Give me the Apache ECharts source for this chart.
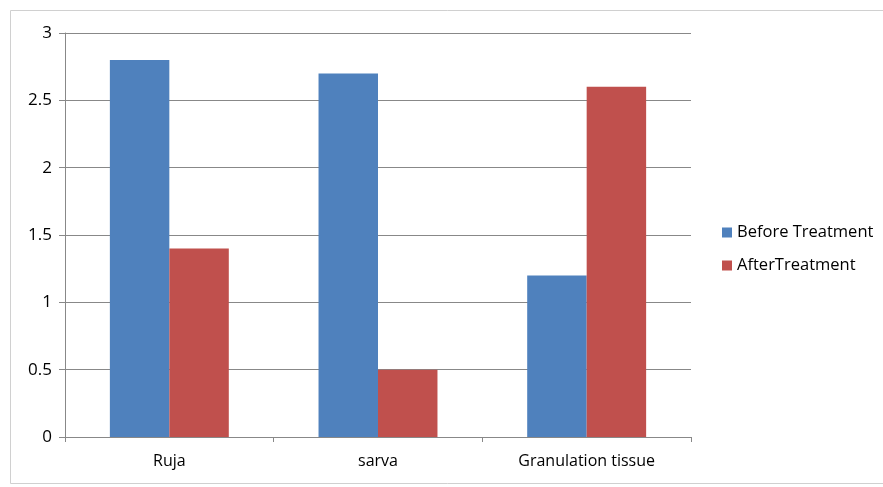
<!DOCTYPE html>
<html>
<head>
<meta charset="utf-8">
<script src="https://cdn.jsdelivr.net/npm/echarts@6/dist/echarts.min.js"></script>
<style>
  html, body { margin: 0; padding: 0; background: #fff; }
  #chart { width: 883px; height: 487px; }
</style>
</head>
<body>
<div id="chart"></div>
<script>
const categories = ["Ruja", "sarva", "Granulation tissue"];
const beforeTreatment = [2.8, 2.7, 1.2];
const afterTreatment = [1.4, 0.5, 2.6];
const yTicks = [0, 0.5, 1, 1.5, 2, 2.5, 3];

const chart = echarts.init(document.getElementById("chart"));
const font = "'Open Sans', 'Liberation Sans', sans-serif";

chart.setOption({
  backgroundColor: "#fff",
  animation: false,
  textStyle: { fontFamily: font },
  graphic: [
    {
      type: "rect",
      shape: { x: 10.5, y: 10.5, width: 880, height: 473 },
      style: { fill: "none", stroke: "#d0d0d0", lineWidth: 1 },
      silent: true
    }
  ],
  grid: { left: 65, right: 192, top: 33, bottom: 50 },
  legend: {
    orient: "vertical",
    left: 717,
    top: 219,
    itemWidth: 10,
    itemHeight: 10,
    itemGap: 16,
    icon: "rect",
    textStyle: { fontSize: 16.5, color: "#000", fontFamily: font },
    data: ["Before Treatment", "AfterTreatment"]
  },
  xAxis: {
    type: "category",
    data: categories,
    axisLine: { lineStyle: { color: "#888", width: 1 } },
    axisTick: { show: true, length: 5, lineStyle: { color: "#888" } },
    axisLabel: { color: "#000", fontSize: 16, margin: 16, fontFamily: font }
  },
  yAxis: {
    type: "value",
    min: yTicks[0],
    max: yTicks[yTicks.length - 1],
    interval: 0.5,
    axisLine: { show: true, lineStyle: { color: "#888", width: 1 } },
    axisTick: { show: true, length: 6, lineStyle: { color: "#888" } },
    splitLine: { lineStyle: { color: "#888", width: 1 } },
    axisLabel: { color: "#000", fontSize: 17, margin: 13, fontFamily: font }
  },
  series: [
    {
      name: "Before Treatment",
      type: "bar",
      data: beforeTreatment,
      barGap: "0%",
      barCategoryGap: "43%",
      itemStyle: { color: "#4f81bd" }
    },
    {
      name: "AfterTreatment",
      type: "bar",
      data: afterTreatment,
      barGap: "0%",
      barCategoryGap: "43%",
      itemStyle: { color: "#c0504d" }
    }
  ]
});
</script>
</body>
</html>
